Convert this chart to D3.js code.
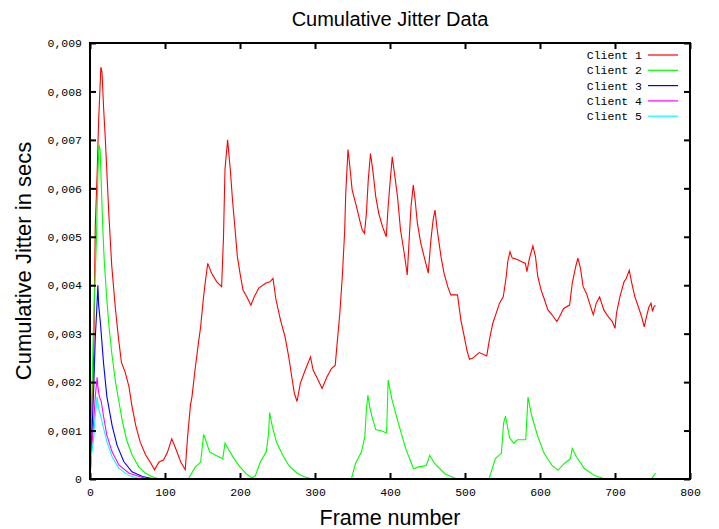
<!DOCTYPE html>
<html>
<head>
<meta charset="utf-8">
<script src="https://cdn.jsdelivr.net/npm/d3@7"></script>
<style>
  html, body { margin: 0; padding: 0; background: #fff; }
  svg { display: block; }
</style>
</head>
<body>
<svg id="chart" width="719" height="529"></svg>
<script>
// ---------- data ----------
const seriesNames = ["Client 1", "Client 2", "Client 3", "Client 4", "Client 5"];
const seriesColors = ["#ff0000", "#00ff00", "#0000ff", "#ff00ff", "#00ffff"];

const client1Frames = [0,1,3.5,5,6,7,9.5,11.5,14.5,16,18,20.5,25,29,34,38,42,47,52,56,61,67,74,81,86,92,98,103,109,114,121,127,130,134,136,140,144.5,147.5,151,154,157,162,169,175.5,178,180,183.5,187,190,193.5,196.5,200,204,209,214.5,219,225,234,240,244,248,254,260,265,269,272.5,276,280.5,287,294,297.5,303,309.5,316,322,327,329.5,333,336.5,339.5,341,344,346,349.5,353,356.5,359.5,363,366,368.5,371,374,377,381,385,390,395,397.5,400,403,406,410,414,419,423,425.5,428,431,433.5,436.5,441,445.5,451,454.5,457.5,460,463,468,472,477,481,490,494.5,499,502.5,506,510,519,529,532.5,537,541.5,546,551,555,557,560,563,568,575,580.5,582.5,586,590.5,594,597,601.5,606,610.5,616,622.5,626,631.5,639.5,643,647.5,650.5,654,657.5,662,666,671,675,679.5,685,691,696.5,700,702,706.5,712,715,719,722,726.5,731,735.5,739,742,745,748,750,752,754];
const client1Values = [0.0003,0.0009,0.0019,0.0026,0.0039,0.0052,0.0063,0.0074,0.0085,0.0084,0.0077,0.0070,0.0055,0.0044,0.0035,0.0029,0.0024,0.0022,0.0019,0.0015,0.0011,0.00076,0.0005,0.00033,0.00019,0.00035,0.00039,0.00054,0.00083,0.00064,0.00035,0.00019,0.00085,0.00153,0.0017,0.00225,0.0028,0.00314,0.0037,0.0041,0.00445,0.00425,0.00407,0.00397,0.0050,0.0064,0.0070,0.0064,0.00576,0.00514,0.00459,0.00425,0.0039,0.00376,0.00359,0.00376,0.00394,0.00404,0.00407,0.00414,0.0037,0.00328,0.00294,0.00252,0.00211,0.00177,0.0016,0.00198,0.00225,0.00252,0.00225,0.00208,0.00187,0.00211,0.00228,0.00235,0.0028,0.0034,0.0042,0.0051,0.0059,0.0068,0.00652,0.00597,0.00576,0.00555,0.00535,0.00514,0.00507,0.00548,0.00617,0.00672,0.00638,0.00583,0.00548,0.00521,0.0050,0.00562,0.0061,0.00665,0.00631,0.00583,0.00514,0.00466,0.00421,0.00493,0.00562,0.00607,0.00576,0.00528,0.00487,0.00459,0.00425,0.00493,0.00535,0.00555,0.00514,0.00459,0.00425,0.00397,0.0038,0.0038,0.00328,0.00294,0.00266,0.00247,0.00249,0.00261,0.00254,0.00287,0.00321,0.00342,0.00363,0.00376,0.00418,0.00449,0.00469,0.00456,0.00454,0.00449,0.00445,0.00428,0.00456,0.00481,0.00459,0.00418,0.0039,0.0037,0.00349,0.00339,0.00325,0.00335,0.00352,0.00359,0.00404,0.00438,0.00456,0.00435,0.00397,0.00383,0.00363,0.00339,0.00363,0.00376,0.00349,0.00335,0.00325,0.00311,0.00342,0.00376,0.00407,0.00414,0.00431,0.00407,0.00376,0.00356,0.00335,0.00314,0.00335,0.00354,0.00363,0.00346,0.00356,0.00358];

const client2Frames = [0,2,4,6,8.5,10.5,12,13.5,15,17,19,22,25,29,34,38.5,43,49,56,65,74,85,94,130,131,140.5,147.5,151.5,154,159.5,167.5,177,180,184,192,200,208,216,220.5,227,235,238,239.5,243,248.5,257,265,276,286.5,297,348.5,354,362,366.5,368.5,370.5,373,377,381,389,395.5,397.5,402.5,411,421.5,431.5,438,448.5,453,459.5,473,489,532,540.5,548.5,551.5,554,559.5,565,570,581,584,589,597,605.5,616,624,632.5,640.5,643,648.5,659.5,673,686.5,748.5,754];
const client2Values = [0,0.0013,0.0028,0.0038,0.0049,0.0063,0.0069,0.0068,0.0061,0.0052,0.0045,0.0038,0.0032,0.0026,0.0020,0.0016,0.0012,0.0008,0.0005,0.00025,0.00012,0.00003,0,0,0,0.00025,0.00035,0.00092,0.00081,0.00056,0.00049,0.00042,0.00074,0.00063,0.00042,0.00025,0.00011,0.00002,0.00007,0.00035,0.00056,0.00092,0.00137,0.00109,0.00077,0.00049,0.00028,0.00012,0.00004,0,0,0.00032,0.00056,0.00088,0.00144,0.00173,0.00148,0.00123,0.00102,0.00099,0.00095,0.00204,0.00165,0.00116,0.0006,0.00021,0.00025,0.00028,0.00049,0.00032,0.00011,0,0,0.00042,0.00053,0.00116,0.0013,0.00085,0.00074,0.00081,0.00081,0.00169,0.0013,0.00088,0.00053,0.00028,0.00018,0.00032,0.00042,0.00063,0.00046,0.00021,0.00007,0,0,0.00012];

const client3Frames = [0,2.5,5,7,9,10.5,11.5,14,16,18,22.5,29.5,36,45,56,70,83,90];
const client3Values = [0,0.0009,0.0019,0.0029,0.0035,0.0040,0.0036,0.0032,0.0028,0.0024,0.0017,0.0011,0.0007,0.00036,0.00015,0.00005,0.00001,0];

const client4Frames = [0,2.5,5,7,9.5,10.5,12.5,15,18,22.5,29.5,38.5,52,70,80];
const client4Values = [0,0.0007,0.0012,0.0017,0.0021,0.0019,0.0017,0.0016,0.0013,0.0009,0.00056,0.00029,0.00012,0.00003,0];

const client5Frames = [0,2,5,7,9.5,11.5,15,18,22.5,29.5,38.5,52,67];
const client5Values = [0,0.0005,0.00085,0.0013,0.0017,0.00146,0.00125,0.00105,0.00077,0.00046,0.00022,0.00007,0];

const xTicks = [0,100,200,300,400,500,600,700,800];
const yTicks = [0,0.001,0.002,0.003,0.004,0.005,0.006,0.007,0.008,0.009];
const yTickLabels = ["0","0,001","0,002","0,003","0,004","0,005","0,006","0,007","0,008","0,009"];

const chartTitle = "Cumulative Jitter Data";
const xTitle = "Frame number";
const yTitle = "Cumulative Jitter in secs";

// ---------- layout ----------
const plotLeft = 90, plotRight = 690, plotTop = 43, plotBottom = 479;
const svg = d3.select("#chart");
const monoFont = "'Liberation Mono', 'DejaVu Sans Mono', monospace";
const sansFont = "'Liberation Sans', Arial, sans-serif";

const x = d3.scaleLinear().domain([0, 800]).range([plotLeft, plotRight]);
const y = d3.scaleLinear().domain([0, 0.009]).range([plotBottom, plotTop]);

const series = [
  {f: client1Frames, v: client1Values},
  {f: client2Frames, v: client2Values},
  {f: client3Frames, v: client3Values},
  {f: client4Frames, v: client4Values},
  {f: client5Frames, v: client5Values}
];

const line = d3.line().x(d => x(d[0])).y(d => y(d[1]));

// lines
const plot = svg.append("g");
series.forEach((s, i) => {
  const pts = s.f.map((fr, k) => [fr, s.v[k]]);
  plot.append("path")
    .datum(pts)
    .attr("d", line)
    .attr("fill", "none")
    .attr("stroke", seriesColors[i])
    .attr("stroke-width", 1.1)
    .attr("stroke-linejoin", "miter");
});

// axes (ticks inward on all sides)
const tickLen = 6;
const styleAxis = g => {
  g.select(".domain").remove();
  g.selectAll(".tick line").attr("stroke", "#000").attr("stroke-width", 2);
  g.selectAll("text").attr("font-family", monoFont).attr("font-size", "11.5px").attr("fill", "#000");
};

svg.append("g")
  .attr("transform", `translate(0,${plotBottom})`)
  .call(d3.axisBottom(x).tickValues(xTicks).tickSizeInner(-tickLen).tickSizeOuter(0).tickPadding(9).tickFormat(d3.format("d")))
  .call(styleAxis);

svg.append("g")
  .attr("transform", `translate(0,${plotTop})`)
  .call(d3.axisTop(x).tickValues(xTicks).tickSizeInner(-tickLen).tickSizeOuter(0).tickFormat(""))
  .call(styleAxis);

svg.append("g")
  .attr("transform", `translate(${plotLeft},0)`)
  .call(d3.axisLeft(y).tickValues(yTicks).tickSizeInner(-tickLen).tickSizeOuter(0).tickPadding(8)
    .tickFormat((d, i) => yTickLabels[i]))
  .call(styleAxis);

svg.append("g")
  .attr("transform", `translate(${plotRight},0)`)
  .call(d3.axisRight(y).tickValues(yTicks).tickSizeInner(-tickLen).tickSizeOuter(0).tickFormat(""))
  .call(styleAxis);

// frame
svg.append("rect")
  .attr("x", plotLeft).attr("y", plotTop)
  .attr("width", plotRight - plotLeft).attr("height", plotBottom - plotTop)
  .attr("fill", "none").attr("stroke", "#000").attr("stroke-width", 2);

// legend
const legend = svg.append("g");
seriesNames.forEach((name, i) => {
  const ly = 55 + i * 15.3;
  legend.append("text")
    .attr("x", 642).attr("y", ly).attr("dy", "0.35em")
    .attr("text-anchor", "end")
    .attr("font-family", monoFont).attr("font-size", "11.5px")
    .text(name);
  legend.append("line")
    .attr("x1", 648).attr("x2", 678).attr("y1", ly).attr("y2", ly)
    .attr("stroke", seriesColors[i]).attr("stroke-width", 1.2);
});

// titles
svg.append("text")
  .attr("x", (plotLeft + plotRight) / 2).attr("y", 26)
  .attr("text-anchor", "middle")
  .attr("font-family", sansFont).attr("font-size", "20px")
  .text(chartTitle);

svg.append("text")
  .attr("x", (plotLeft + plotRight) / 2).attr("y", 525)
  .attr("text-anchor", "middle")
  .attr("font-family", sansFont).attr("font-size", "21.5px")
  .text(xTitle);

svg.append("text")
  .attr("transform", `translate(31,${(plotTop + plotBottom) / 2}) rotate(-90)`)
  .attr("text-anchor", "middle")
  .attr("font-family", sansFont).attr("font-size", "22px")
  .text(yTitle);
</script>
</body>
</html>
